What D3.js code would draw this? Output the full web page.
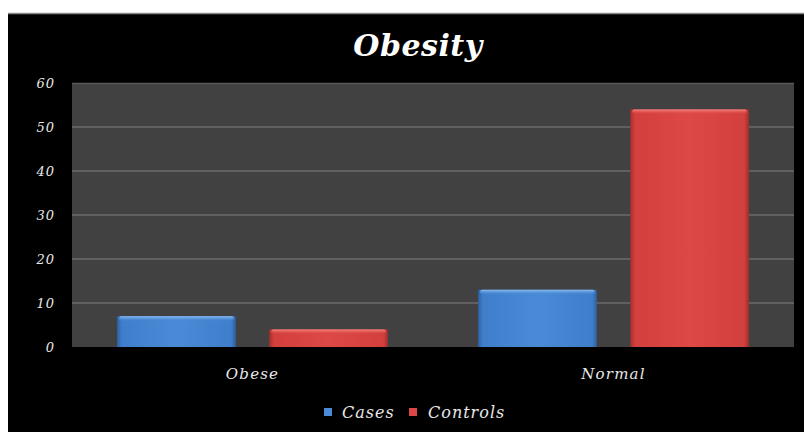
<!DOCTYPE html>
<html>
<head>
<meta charset="utf-8">
<script src="https://cdn.jsdelivr.net/npm/d3@7/dist/d3.min.js"></script>
<style>
  html, body { margin: 0; padding: 0; background: #ffffff; }
  svg { display: block; }
</style>
</head>
<body>
<script>
// Obesity: cases vs. controls by weight category
const categories = ["Obese", "Normal"];
const seriesNames = ["Cases", "Controls"];
const casesValues = [7, 13];
const controlsValues = [4, 54];
const yTicks = [0, 10, 20, 30, 40, 50, 60];

const W = 804, H = 432;
const frame = { left: 8, top: 13, right: 804, bottom: 432 };
const plot = { left: 72, right: 794, top: 83, bottom: 347 };
const fontFam = "'DejaVu Serif', 'Liberation Serif', serif";

const svg = d3.select("body").append("svg").attr("width", W).attr("height", H);
const defs = svg.append("defs");

const palette = {
  Cases:    { base: "#3f7ecb", light: "#4a8ad6", dark: "#2d62a3", top: "#8cc0f2" },
  Controls: { base: "#d33f3d", light: "#dd4846", dark: "#a52e2c", top: "#f58a86" }
};

seriesNames.forEach(s => {
  const g = defs.append("linearGradient").attr("id", "grad-" + s)
    .attr("x1", "0").attr("x2", "1").attr("y1", "0").attr("y2", "0");
  g.append("stop").attr("offset", "0%").attr("stop-color", palette[s].dark);
  g.append("stop").attr("offset", "4%").attr("stop-color", palette[s].base);
  g.append("stop").attr("offset", "50%").attr("stop-color", palette[s].light);
  g.append("stop").attr("offset", "96%").attr("stop-color", palette[s].base);
  g.append("stop").attr("offset", "100%").attr("stop-color", palette[s].dark);
  const t = defs.append("linearGradient").attr("id", "top-" + s)
    .attr("x1", "0").attr("x2", "0").attr("y1", "0").attr("y2", "1");
  t.append("stop").attr("offset", "0%").attr("stop-color", palette[s].top).attr("stop-opacity", 1);
  t.append("stop").attr("offset", "100%").attr("stop-color", palette[s].light).attr("stop-opacity", 0);
});

const blur = defs.append("filter").attr("id", "soft");
blur.append("feGaussianBlur").attr("stdDeviation", 0.5);

// Black chart frame
svg.append("rect")
  .attr("x", frame.left).attr("y", frame.top)
  .attr("width", frame.right - frame.left).attr("height", frame.bottom - frame.top)
  .attr("fill", "#000000");
svg.append("line")
  .attr("x1", frame.left).attr("x2", frame.right)
  .attr("y1", frame.top + 0.5).attr("y2", frame.top + 0.5)
  .attr("stroke", "#8a8a8a").attr("stroke-width", 1.5);

// Scales
const y = d3.scaleLinear().domain([0, 60]).range([plot.bottom, plot.top]);
const x0 = d3.scaleBand().domain(categories).range([plot.left, plot.right])
  .paddingInner(0.25).paddingOuter(0.125);
const x1 = d3.scaleBand().domain(seriesNames).range([0, x0.bandwidth()]).paddingInner(0.22);

// Plot area
svg.append("rect")
  .attr("x", plot.left).attr("y", plot.top)
  .attr("width", plot.right - plot.left).attr("height", plot.bottom - plot.top)
  .attr("fill", "#414141");
svg.append("line")
  .attr("x1", plot.left).attr("x2", plot.right)
  .attr("y1", plot.top + 0.5).attr("y2", plot.top + 0.5)
  .attr("stroke", "#5a5a5a").attr("stroke-width", 1.5);

// Gridlines
svg.append("g").selectAll("line")
  .data(yTicks.filter(v => v > 0 && v < 60))
  .join("line")
  .attr("x1", plot.left).attr("x2", plot.right)
  .attr("y1", d => y(d)).attr("y2", d => y(d))
  .attr("stroke", "#6b6b6b").attr("stroke-width", 1.5);

// Y axis labels
const yAxis = d3.axisLeft(y).tickValues(yTicks).tickSize(0).tickPadding(17);
const yG = svg.append("g").attr("transform", `translate(${plot.left},0)`).call(yAxis);
yG.select(".domain").remove();
yG.selectAll("text")
  .attr("fill", "#e8e8e8")
  .style("font-family", fontFam).style("font-style", "italic")
  .style("font-size", "13px").style("letter-spacing", "1px");

// X axis labels
const xAxis = d3.axisBottom(x0).tickSize(0).tickPadding(21);
const xG = svg.append("g").attr("transform", `translate(0,${plot.bottom})`).call(xAxis);
xG.select(".domain").remove();
xG.selectAll("text")
  .attr("fill", "#e8e8e8")
  .style("font-family", fontFam).style("font-style", "italic")
  .style("font-size", "15px").style("letter-spacing", "1.2px");

// Bars
const rows = categories.map((c, i) => ({
  category: c,
  values: [
    { series: "Cases", value: casesValues[i] },
    { series: "Controls", value: controlsValues[i] }
  ]
}));

const groups = svg.append("g").selectAll("g")
  .data(rows).join("g")
  .attr("transform", d => `translate(${x0(d.category)},0)`);

const bars = groups.selectAll("g").data(d => d.values).join("g").attr("filter", "url(#soft)");
bars.append("rect")
  .attr("x", d => x1(d.series))
  .attr("y", d => y(d.value))
  .attr("width", x1.bandwidth())
  .attr("height", d => y(0) - y(d.value))
  .attr("fill", d => `url(#grad-${d.series})`);
bars.append("rect")
  .attr("x", d => x1(d.series) + 2)
  .attr("y", d => y(d.value))
  .attr("width", x1.bandwidth() - 4)
  .attr("height", 5)
  .attr("rx", 2)
  .attr("fill", d => `url(#top-${d.series})`);

// Title
svg.append("text")
  .attr("x", 418).attr("y", 56)
  .attr("text-anchor", "middle")
  .attr("fill", "#ffffff")
  .style("font-family", fontFam).style("font-style", "italic").style("font-weight", "bold")
  .style("font-size", "30px").style("letter-spacing", "0.5px")
  .text("Obesity");

// Legend
const legendItems = [
  { name: "Cases", sx: 324, tx: 342 },
  { name: "Controls", sx: 409, tx: 428 }
];
const lg = svg.append("g");
lg.selectAll("rect").data(legendItems).join("rect")
  .attr("x", d => d.sx).attr("y", 408)
  .attr("width", 8).attr("height", 8)
  .attr("fill", d => palette[d.name].light);
lg.selectAll("text").data(legendItems).join("text")
  .attr("x", d => d.tx).attr("y", 418)
  .attr("fill", "#e8e8e8")
  .style("font-family", fontFam).style("font-style", "italic")
  .style("font-size", "16px").style("letter-spacing", "1px")
  .text(d => d.name);
</script>
</body>
</html>
